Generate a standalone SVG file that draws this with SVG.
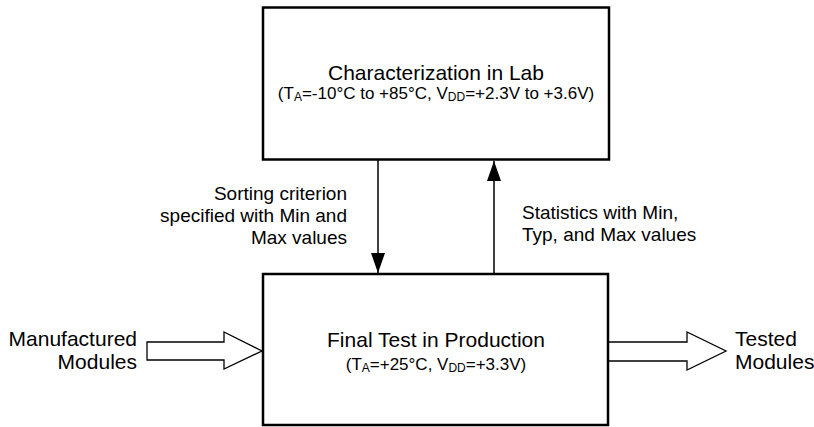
<svg xmlns="http://www.w3.org/2000/svg" width="814" height="427" viewBox="0 0 814 427">
<style>
.box{fill:#fff;stroke:#000;stroke-width:2.5}
.blk{fill:#fff;stroke:#000;stroke-width:1.3;stroke-linejoin:miter}
.ln{stroke:#000;stroke-width:1.5;fill:none}
text{font-family:"Liberation Sans",Arial,sans-serif;fill:#000}
.t{font-size:21px;text-anchor:middle}
.s{font-size:17px;text-anchor:middle}
.lb{font-size:19px}
.io{font-size:21px}
.sub{font-size:12px}
</style>
<defs>
<marker id="ah" viewBox="0 0 20 14" refX="20" refY="7" markerWidth="20" markerHeight="14" markerUnits="userSpaceOnUse" orient="auto">
<path d="M0,0 L20,7 L0,14 Z" fill="#000"/>
</marker>
</defs>
<g id="connectors">
<line class="ln" x1="378" y1="160" x2="378" y2="273" marker-end="url(#ah)"/>
<line class="ln" x1="494" y1="274" x2="494" y2="161" marker-end="url(#ah)"/>
<path id="in-arrow" class="blk" d="M147,342 L224,342 L224,332 L262,351 L224,369 L224,360 L147,360 Z"/>
<path id="out-arrow" class="blk" d="M608,342 L687,342 L687,332 L726,351 L687,370 L687,361 L608,361"/>
<text class="lb" x="347" y="200" text-anchor="end">Sorting criterion</text>
<text class="lb" x="347" y="222" text-anchor="end">specified with Min and</text>
<text class="lb" x="347" y="244" text-anchor="end">Max values</text>
<text class="lb" x="522" y="219">Statistics with Min,</text>
<text class="lb" x="522" y="241">Typ, and Max values</text>
</g>
<g id="lab">
<rect class="box" x="263" y="7.5" width="346" height="152"/>
<text class="t" x="436" y="80">Characterization in Lab</text>
<text class="s" x="436" y="99">(T<tspan class="sub" dy="1.5">A</tspan><tspan dy="-1.5">=-10°C to +85°C, V</tspan><tspan class="sub" dy="1.5">DD</tspan><tspan dy="-1.5">=+2.3V to +3.6V)</tspan></text>
</g>
<g id="production">
<rect class="box" x="263" y="274" width="345" height="151"/>
<text class="t" x="436" y="347">Final Test in Production</text>
<text class="s" x="436" y="370">(T<tspan class="sub" dy="1.5">A</tspan><tspan dy="-1.5">=+25°C, V</tspan><tspan class="sub" dy="1.5">DD</tspan><tspan dy="-1.5">=+3.3V)</tspan></text>
</g>
<g id="manufactured">
<text class="io" x="137" y="346" text-anchor="end">Manufactured</text>
<text class="io" x="137" y="369" text-anchor="end">Modules</text>
</g>
<g id="tested">
<text class="io" x="735" y="346">Tested</text>
<text class="io" x="735" y="369">Modules</text>
</g>
</svg>
